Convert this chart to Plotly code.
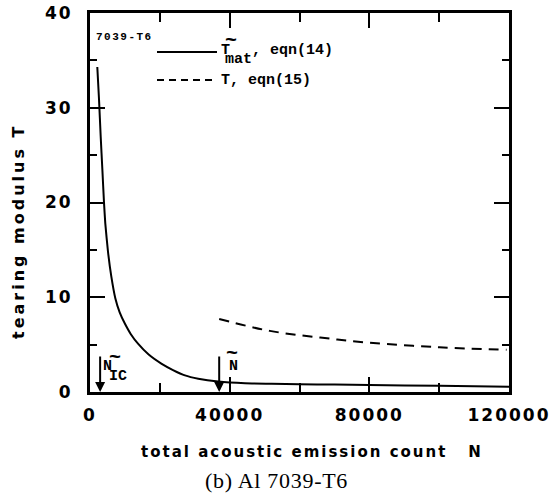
import plotly.graph_objects as go

# ---- data ----
N_mat = [2090, 2580, 3060, 3550, 4010, 4380, 5155, 6100, 7250, 8500, 9940, 11700, 13750, 16800,
         20420, 23770, 27200, 31000, 36700, 44400, 52000, 60000, 70000, 80000, 100000, 120000]
T_mat = [34.3, 30.9, 27.0, 23.4, 20.0, 17.8, 14.8, 12.2, 9.9, 8.4, 7.25, 6.1, 5.1, 3.95,
         3.0, 2.32, 1.75, 1.4, 1.1, 0.92, 0.87, 0.82, 0.78, 0.74, 0.65, 0.56]

N_eq15 = [37000, 51500, 65900, 80000, 100000, 119300]
T_eq15 = [7.7, 6.45, 5.75, 5.2, 4.72, 4.45]

N_IC = 2900        # marked initiation count
N_TILDE = 37000    # marked count N~
ARROW_TOP = 3.9

x_ticks = [0, 40000, 80000, 120000]
x_ticktext = ["0", "40000", "80000", "120000"]
y_ticks = [0, 10, 20, 30, 40]
y_ticktext = ["0", "10", "20", "30", "40"]

W, H = 554, 494
L, R, T, B = 90, 45, 13, 102
pw, ph = W - L - R, H - T - B


def px(x):  # pixel -> paper
    return (x - L) / pw


def py(y):
    return (H - B - y) / ph


def spaced(s, sp):
    return "<span style='letter-spacing:%spx'>%s</span>" % (sp, s)


fig = go.Figure()
fig.add_trace(go.Scatter(x=N_mat, y=T_mat, mode="lines",
                         line=dict(color="black", width=2, shape="spline", smoothing=0.5),
                         showlegend=False, hoverinfo="skip"))
fig.add_trace(go.Scatter(x=N_eq15, y=T_eq15, mode="lines",
                         line=dict(color="black", width=2, dash="10px,7px", shape="spline"),
                         showlegend=False, hoverinfo="skip"))

tickfont = dict(family="DejaVu Sans", size=17, color="black", weight="bold")
common = dict(showline=True, linecolor="black", linewidth=3, mirror="ticks",
              ticks="inside", tickcolor="black", tickwidth=2, showgrid=False,
              zeroline=False, tickfont=tickfont, automargin=False)

fig.update_xaxes(range=[0, 120000], tickvals=x_ticks,
                 ticktext=[spaced(t, 2) for t in x_ticktext],
                 ticklen=15, ticklabelstandoff=6,
                 minor=dict(dtick=20000, ticks="inside", ticklen=9, tickwidth=2, tickcolor="black"),
                 **common)
fig.update_yaxes(range=[0, 40], tickvals=y_ticks,
                 ticktext=[spaced(t, 2) for t in y_ticktext],
                 ticklen=15, ticklabelstandoff=11,
                 minor=dict(dtick=5, ticks="inside", ticklen=7, tickwidth=2, tickcolor="black"),
                 **common)

mono = "Liberation Mono"
ann = []


def text(x, y, s, size=15, family=mono, xanchor="left", bold=True, angle=0, ref="paper"):
    ann.append(dict(x=x, y=y, xref=ref, yref=ref, text=s, showarrow=False, xanchor=xanchor,
                    yanchor="middle", textangle=angle,
                    font=dict(family=family, size=size, color="black",
                              weight="bold" if bold else "normal")))


# specimen label
text(px(94), py(37), spaced("7039-T6", 1.5), size=11)

# legend
fig.add_shape(type="line", xref="paper", yref="paper", x0=px(157), x1=px(217), y0=py(52), y1=py(52),
              line=dict(color="black", width=2))
fig.add_shape(type="line", xref="paper", yref="paper", x0=px(157), x1=px(217), y0=py(80), y1=py(80),
              line=dict(color="black", width=2, dash="7px,5px"))
text(px(219), py(50), "T")
text(px(231), py(40), "~", size=20, xanchor="center")
text(px(223), py(59), "mat")
text(px(250), py(50), ",&nbsp;eqn(14)")
text(px(219), py(80), "T, eqn(15)")

# arrows
for xv in (N_IC, N_TILDE):
    ann.append(dict(x=xv, y=0, ax=xv, ay=ARROW_TOP, xref="x", yref="y", axref="x", ayref="y",
                    text="", showarrow=True, arrowhead=2, arrowsize=1, arrowwidth=2,
                    arrowcolor="black"))

text(px(101), py(366), "N")
text(px(115), py(357), "~", size=20, xanchor="center")
text(px(107), py(376), "IC")
text(px(227), py(366), "N")
text(px(232), py(353), "~", size=20, xanchor="center")

# axis titles
text(px(311), py(452), spaced("total acoustic emission count", 2) + "&nbsp;&nbsp;&nbsp;&nbsp;N",
     size=15, family="DejaVu Sans", xanchor="center")
text(px(18), py(232), spaced("tearing modulus T", 3), size=16,
     family="DejaVu Sans", xanchor="center", angle=-90)

# caption
text(px(276), py(480), spaced("(b) Al 7039-T6", 0.7), size=22, family="Liberation Serif",
     xanchor="center", bold=False)

fig.update_layout(width=W, height=H, margin=dict(l=L, r=R, t=T, b=B),
                  paper_bgcolor="white", plot_bgcolor="white", annotations=ann)

fig.write_html("out.html", config={"displayModeBar": False},
               post_script="document.body.style.margin='0';document.body.style.overflow='hidden';")
